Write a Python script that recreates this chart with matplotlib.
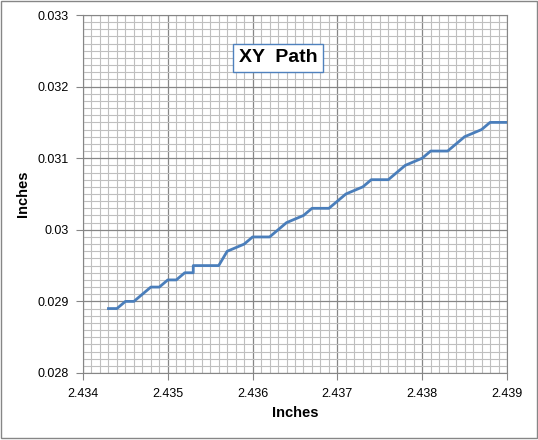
import numpy as np
import matplotlib.pyplot as plt
from matplotlib.ticker import MultipleLocator, FormatStrFormatter

# path points (inches)
x_in = [2.4343, 2.4344, 2.4345, 2.4346, 2.4347, 2.4348, 2.4349, 2.4350, 2.4351, 2.4352,
        2.4353, 2.4353, 2.4354, 2.4355, 2.4356, 2.4357, 2.4358, 2.4359, 2.4360, 2.4361,
        2.4362, 2.4363, 2.4364, 2.4365, 2.4366, 2.4367, 2.4368, 2.4369, 2.4370, 2.4371,
        2.4372, 2.4373, 2.4374, 2.4375, 2.4376, 2.4377, 2.4378, 2.4379, 2.4380, 2.4381,
        2.4382, 2.4383, 2.4384, 2.4385, 2.4386, 2.4387, 2.4388, 2.4389, 2.4390]
y_in = [0.0289, 0.0289, 0.0290, 0.0290, 0.0291, 0.0292, 0.0292, 0.0293, 0.0293, 0.0294,
        0.0294, 0.0295, 0.0295, 0.0295, 0.0295, 0.0297, 0.02975, 0.0298, 0.0299, 0.0299,
        0.0299, 0.0300, 0.0301, 0.03015, 0.0302, 0.0303, 0.0303, 0.0303, 0.0304, 0.0305,
        0.03055, 0.0306, 0.0307, 0.0307, 0.0307, 0.0308, 0.0309, 0.03095, 0.0310, 0.0311,
        0.0311, 0.0311, 0.0312, 0.0313, 0.03135, 0.0314, 0.0315, 0.0315, 0.0315]

plt.rcParams['font.family'] = ['Liberation Sans', 'DejaVu Sans']

fig = plt.figure(figsize=(5.38, 4.40), dpi=100)
ax = fig.add_axes([0.1543, 0.1523, 0.7881, 0.8136])

ax.plot(x_in, y_in, color='#4a7ebb', linewidth=2, zorder=3)

ax.set_xlim(2.434, 2.439)
ax.set_ylim(0.028, 0.033)
ax.xaxis.set_major_locator(MultipleLocator(0.001))
ax.xaxis.set_minor_locator(MultipleLocator(0.0001))
ax.yaxis.set_major_locator(MultipleLocator(0.001))
ax.yaxis.set_minor_locator(MultipleLocator(0.0001))
ax.xaxis.set_major_formatter(FormatStrFormatter('%.3f'))
ax.yaxis.set_major_formatter(plt.FuncFormatter(lambda v, p: '0.03' if abs(v - 0.030) < 1e-9 else f'{v:.3f}'))

ax.grid(which='minor', color='#bfbfbf', linewidth=0.8)
ax.grid(which='major', color='#868686', linewidth=0.9)
ax.set_axisbelow(True)
ax.tick_params(which='major', direction='out', length=5, color='#868686', labelsize=9)
ax.tick_params(axis='x', pad=6)
ax.tick_params(axis='y', pad=5)
ax.tick_params(which='minor', length=0)
for s in ax.spines.values():
    s.set_color('#868686')

ax.set_xlabel('Inches', fontsize=10.5, fontweight='bold')
ax.set_ylabel('Inches', fontsize=10.5, fontweight='bold')
ax.xaxis.set_label_coords(0.5, -0.092)
ax.yaxis.set_label_coords(-0.125, 0.5)

ax.text(0.46, 0.88, 'XY  Path', transform=ax.transAxes, ha='center', va='center',
        fontsize=14, fontweight='bold',
        bbox=dict(boxstyle='square,pad=0.3', facecolor='white', edgecolor='#4f81bd', linewidth=1))

# chart border
fig.patches.append(plt.Rectangle((0.002, 0.004), 0.996, 0.994, transform=fig.transFigure,
                                 fill=False, edgecolor='#868686', linewidth=1))

fig.savefig('out.png', dpi=100)
